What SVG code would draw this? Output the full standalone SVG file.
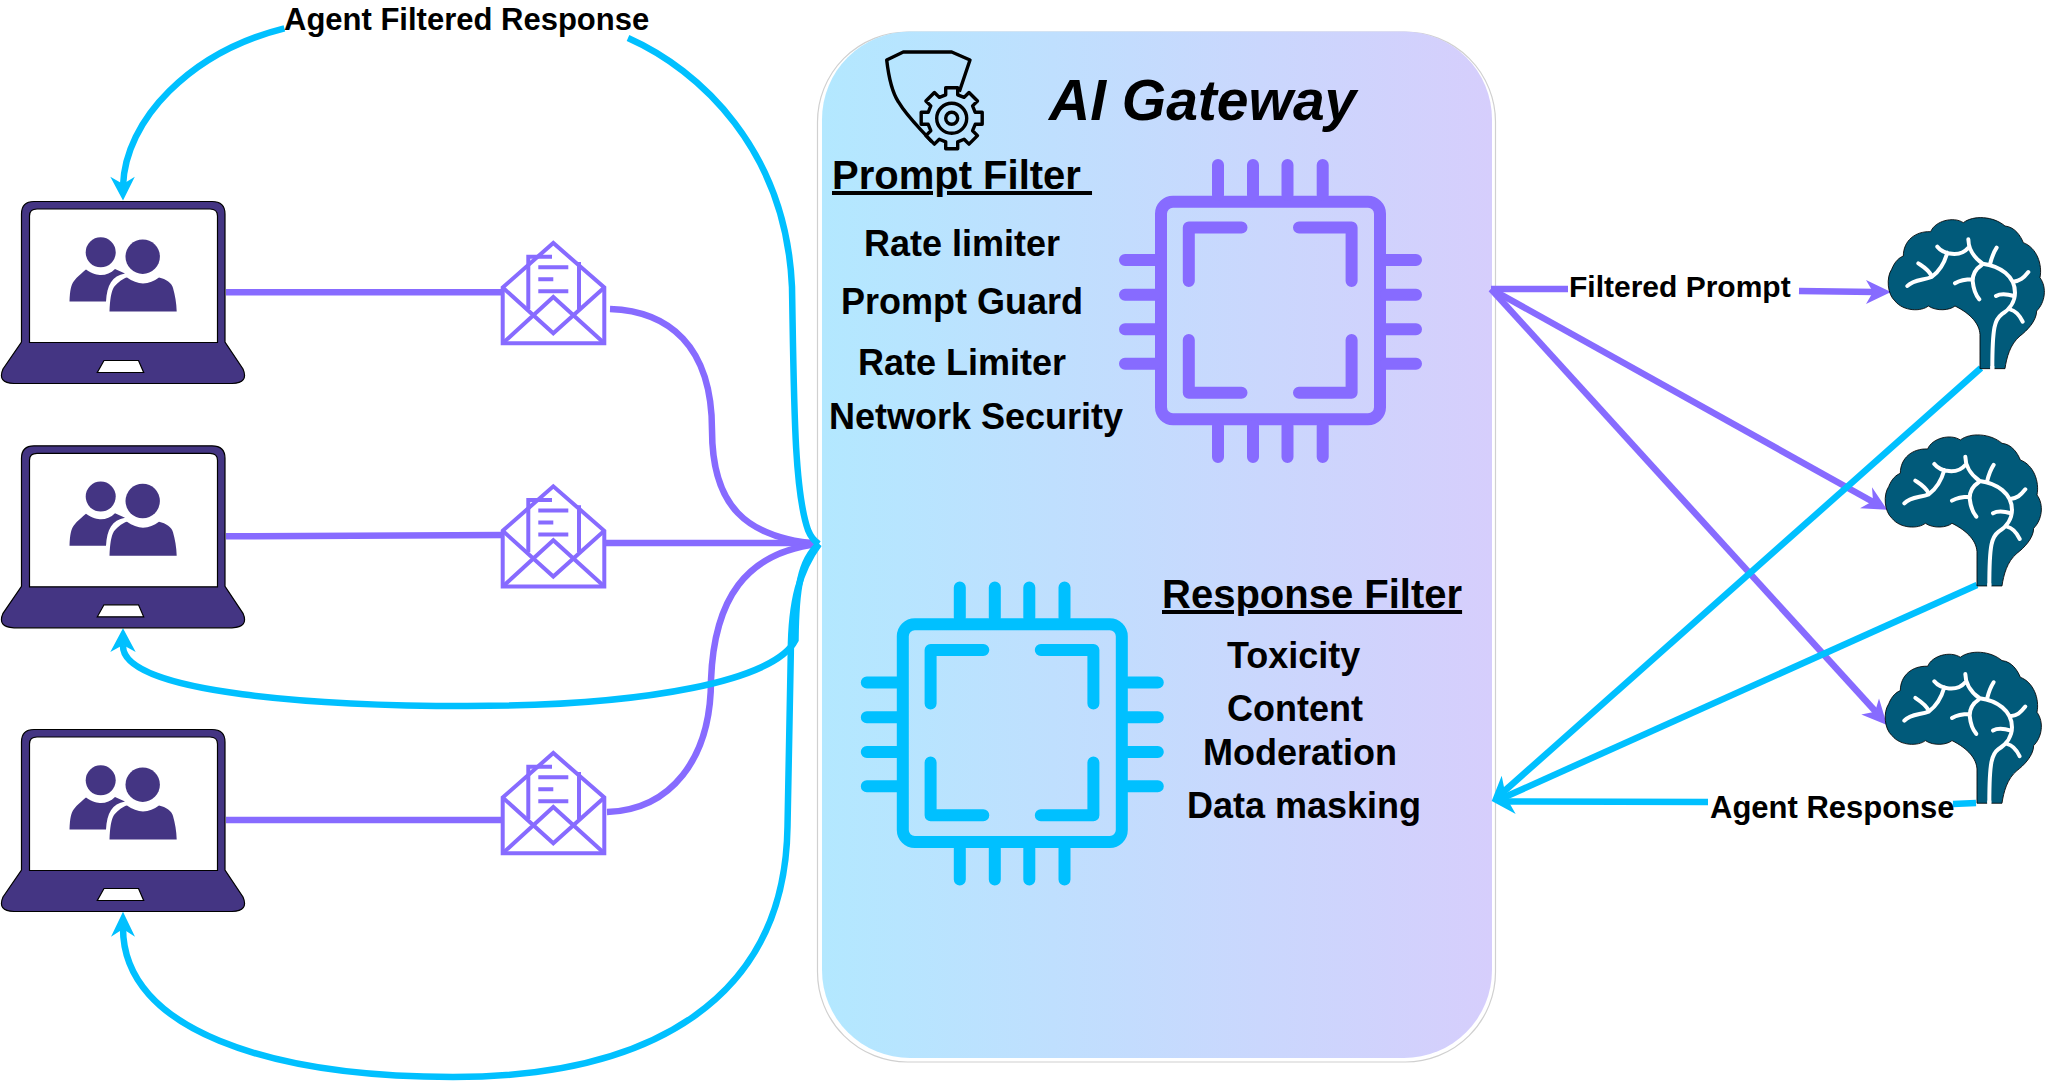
<svg xmlns="http://www.w3.org/2000/svg" width="2045" height="1081" viewBox="0 0 2045 1081">
<style>
text{font-family:"Liberation Sans",Arial,sans-serif;font-weight:700;fill:#000}
.title{font-size:57px;font-style:italic}
.head{font-size:40px;text-decoration:underline}
.item{font-size:36px}
.lbl{font-size:31px}
.p{fill:none;stroke:#876bff;stroke-width:6.5}
.c{fill:none;stroke:#00c0ff;stroke-width:6.5}
.pa{fill:#876bff}
.ca{fill:#00c0ff}
.env path{fill:none;stroke:#876bff;stroke-width:4}
.lap{fill:#443583;stroke:#000;stroke-width:1.2;fill-rule:evenodd}
.ppl{fill:#443583}
.brainbody{fill:#015a7a;stroke:#000;stroke-width:2.5}
.vein{fill:none;stroke:#fff;stroke-width:12;stroke-linecap:round;stroke-linejoin:round}
.chip{fill:none;stroke:currentColor;stroke-width:12;stroke-linecap:round;stroke-linejoin:round}
</style>
<defs>
<linearGradient id="gw" gradientUnits="userSpaceOnUse" x1="822" y1="0" x2="1492" y2="0">
<stop offset="0" stop-color="#b3e8ff"/><stop offset="1" stop-color="#d6cefc"/>
</linearGradient>
<g id="laptop">
<path class="lap" d="M21.5,342 V214 Q21.5,201.5 34,201.5 H212 Q225,201.5 225,214 V342 L243,369 Q249,383 232,383.5 H14 Q-3,383 3,369 Z M29.5,342.5 H217.5 V216 Q217.5,209 210,209 H37 Q29.5,209 29.5,216 Z M104,360.5 H138.5 L143.7,372.5 H97.3 Z"/>
<path class="ppl" d="M69.5,301.5 C70,290 71,285 74,281 C77,277 83,272 86,269.5 C92,274 98,275 101,275 C106,275 111,273 115,269 L125,273.5 C112,276 107,285 106,301.5 Z"/>
<path class="ppl" d="M109.5,311.5 C110,300 111,292 114,287 C118,282 124,278 127,277.5 C132,281 138,283.5 143,283.5 C149,283.5 154,281 159,277.5 C166,279 172,283 173,288 C175,295 176.5,303 176.7,311.5 Z"/>
<circle class="ppl" cx="100.7" cy="252.3" r="15"/>
<circle class="ppl" cx="142.7" cy="256.7" r="17.2"/>
</g>
<g id="envelope" class="env">
<path d="M502.7,287.5 L553.3,243 L604.3,287.5 V343.3 H502.7 Z"/>
<path d="M528.3,309 V256.7 H552 M579,309 V262"/>
<path d="M538.3,267.3 H568.3 M538.3,279.3 H553.3 M538.3,291.3 H568.3"/>
<path d="M502.7,287.5 L553.3,333.3 L604.3,287.5 M502.7,343.3 L553.3,297 L604.3,343.3"/>
</g>
<g id="chip" class="chip">
<rect x="1161" y="201.7" width="219" height="217.6" rx="12"/>
<path d="M1218,165 V195 M1253,165 V195 M1287.5,165 V195 M1322.7,165 V195 M1218,426 V457 M1253,426 V457 M1287.5,426 V457 M1322.7,426 V457"/>
<path d="M1125,260 H1155 M1125,294.7 H1155 M1125,329.3 H1155 M1125,363.7 H1155 M1386,260 H1416 M1386,294.7 H1416 M1386,329.3 H1416 M1386,363.7 H1416"/>
<path d="M1188.8,281 V227.5 H1241.5 M1299,227.5 H1351.6 V281 M1188.8,340 V392.7 H1241.5 M1299,392.7 H1351.6 V340"/>
</g>
<g id="brain" transform="scale(0.3333)">
<path class="brainbody" d="M360,503 V400 C358,370 335,340 285,315 C270,328 230,332 205,315 C185,332 130,332 105,300 C82,280 78,230 95,205 C105,180 118,170 130,165 C130,120 165,90 212,92 C225,60 280,45 310,65 C340,42 400,45 435,75 C465,78 482,105 490,125 C530,140 548,190 540,230 C562,260 555,305 530,330 C530,360 500,390 480,405 C450,430 440,470 435,503 Z"/>
<path class="vein" d="M142,255 C160,235 190,238 215,228 C240,210 255,180 262,155 M232,137 C250,160 300,170 325,140 M325,115 C325,135 335,165 368,188 C420,195 465,225 465,275 C465,300 450,325 425,340 C405,355 397,375 397,503"/>
<path class="vein" d="M175,187 C190,197 205,205 215,225 M410,140 C400,155 395,170 390,190 M505,213 C490,232 480,240 460,242 M408,285 C425,275 445,280 462,285 M450,325 C470,330 480,345 488,362 M365,192 C345,205 338,225 338,240 C340,260 345,280 358,295 M285,247 C300,238 320,235 338,235"/>
<path d="M397,495 V510" stroke="#fff" stroke-width="12" fill="none"/>
</g>
</defs>

<g id="gateway">
<rect x="817.5" y="32" width="678" height="1030" rx="90" fill="none" stroke="#d0d0d0" stroke-width="1.2"/>
<rect x="822" y="31.5" width="670" height="1026.5" rx="88" fill="url(#gw)"/>
<text class="title" x="1049" y="120">AI Gateway</text>
<g id="shield" fill="none" stroke="#000" stroke-width="3.4" stroke-linejoin="round">
<path d="M959.3,91.7 L970,60 L951.7,52 H903.3 L886.7,60 C889,80 892,92 898.3,101.7 C908,118 920,128 931.7,141.7"/>
<path transform="translate(951.7,118.3)" d="M23.5,-6 L30.5,-6 L30.5,6 L23.5,6 L20.9,12.4 L25.8,17.3 L17.3,25.8 L12.4,20.9 L6,23.5 L6,30.5 L-6,30.5 L-6,23.5 L-12.4,20.9 L-17.3,25.8 L-25.8,17.3 L-20.9,12.4 L-23.5,6 L-30.5,6 L-30.5,-6 L-23.5,-6 L-20.9,-12.4 L-25.8,-17.3 L-17.3,-25.8 L-12.4,-20.9 L-6,-23.5 L-6,-30.5 L6,-30.5 L6,-23.5 L12.4,-20.9 L17.3,-25.8 L25.8,-17.3 L20.9,-12.4 Z"/>
<circle cx="951.7" cy="118.3" r="15"/>
<circle cx="951.7" cy="118.3" r="6"/>
</g>
<g id="prompt-filter">
<text class="head" x="832" y="189" xml:space="preserve">Prompt Filter </text>
<text class="item" x="864" y="256">Rate limiter</text>
<text class="item" x="841" y="314">Prompt Guard</text>
<text class="item" x="858" y="375">Rate Limiter</text>
<text class="item" x="829" y="429">Network Security</text>
<use href="#chip" style="color:#876bff"/>
</g>
<g id="response-filter">
<text class="head" x="1162" y="608">Response Filter</text>
<text class="item" x="1227" y="668">Toxicity</text>
<text class="item" x="1227" y="721">Content</text>
<text class="item" x="1203" y="765">Moderation</text>
<text class="item" x="1187" y="818">Data masking</text>
<use href="#chip" transform="translate(-258.2,422.6)" style="color:#00c0ff"/>
</g>
</g>

<g id="connectors">
<path class="p" d="M226,292.3 H503"/>
<path class="p" d="M226,536.3 L503,535"/>
<path class="p" d="M226,820 H503"/>
<path class="p" d="M610,309 C668,311 712,345 712,430 C712,505 745,538 819,544"/>
<path class="p" d="M606,543 H819"/>
<path class="p" d="M607,812 C670,810 711,760 711,680 C714,600 745,552 819,544"/>
<path class="c" d="M628,38 C700,70 786,150 792,287 C794,400 794,490 808,530 Q812,540 819,544" stroke-linecap="butt"/>
<path class="c" d="M284.4,28.3 C190,52 125,120 123,186"/>
<path class="c" d="M819,544 C800,560 796,590 795.5,640 C775,680 650,706 467,706 C330,706 120,695 123,645"/>
<path class="c" d="M819,544 C800,570 791,600 790.8,653 L787.5,826.7 C785,1000 650,1077 453,1077 C270,1077 123,1030 123,928"/>
<polygon class="ca" points="123,200.5 110.3,176.7 123,184 134.8,176.7"/>
<polygon class="ca" points="123,628.3 110.3,652 123,645 135.7,652"/>
<polygon class="ca" points="123,911.7 111,936.7 123,929 135,936.7"/>
<path class="p" d="M1491,289 H1568"/>
<path class="p" d="M1799,291 L1875,292"/>
<polygon class="pa" points="1891,292 1866,280 1873,292 1866,304"/>
<path class="p" d="M1491,289 L1875,503"/>
<polygon class="pa" points="1887.2,509.7 1872,487.3 1873,501 1860,508.3"/>
<path class="p" d="M1491,289 L1876,712"/>
<polygon class="pa" points="1887,725 1879,698.4 1875,711.7 1861.3,714.6"/>
<path class="c" d="M1981,368 L1500,795"/>
<path class="c" d="M1977,585 L1505,797"/>
<path class="c" d="M1505,801.5 L1708,802"/>
<path class="c" d="M1953,804 L1976,803"/>
<polygon class="ca" points="1491.7,801 1501.7,775.7 1506,797 1515.7,814"/>
<text class="lbl" x="284" y="30">Agent Filtered Response</text>
<text class="lbl" x="1569" y="297" style="font-size:30px">Filtered Prompt</text>
<text class="lbl" x="1710" y="818">Agent Response</text>
</g>

<g id="laptop-1"><use href="#laptop"/></g>
<g id="laptop-2"><use href="#laptop" transform="translate(0,244.3)"/></g>
<g id="laptop-3"><use href="#laptop" transform="translate(0,528)"/></g>
<g id="envelope-1"><use href="#envelope"/></g>
<g id="envelope-2"><use href="#envelope" transform="translate(0,243.3)"/></g>
<g id="envelope-3"><use href="#envelope" transform="translate(0,510)"/></g>
<g id="brain-1"><use href="#brain" transform="translate(1860,201)"/></g>
<g id="brain-2"><use href="#brain" transform="translate(1857,418.3)"/></g>
<g id="brain-3"><use href="#brain" transform="translate(1857,635.6)"/></g>
</svg>
